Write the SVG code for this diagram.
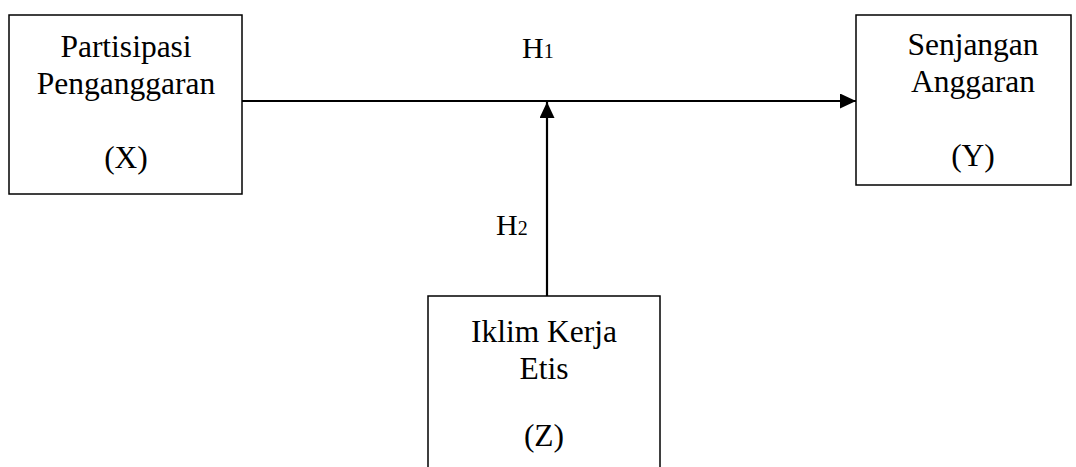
<svg xmlns="http://www.w3.org/2000/svg" width="1076" height="467" viewBox="0 0 1076 467">
  <style>
    .box { fill: #ffffff; stroke: #000000; stroke-width: 1.5; }
    .t { font-family: "Liberation Serif", "Times New Roman", serif; font-size: 31.5px; fill: #000000; text-anchor: middle; }
    .h { font-family: "Liberation Serif", "Times New Roman", serif; font-size: 30px; fill: #000000; }
    .sub { font-size: 20px; }
    .conn { stroke: #000000; stroke-width: 2.2; fill: none; }
  </style>
  <defs>
    <marker id="arrow" markerUnits="userSpaceOnUse" markerWidth="16" markerHeight="16" refX="16" refY="7.5" orient="auto">
      <path d="M0,0 L16,7.5 L0,15 Z" fill="#000000"/>
    </marker>
  </defs>
  <rect width="1076" height="467" fill="#ffffff"/>

  <g id="node-x">
    <rect class="box" x="9" y="15" width="233" height="179"/>
    <text class="t" x="126" y="57">Partisipasi</text>
    <text class="t" x="126" y="94">Penganggaran</text>
    <text class="t" x="126" y="168">(X)</text>
  </g>

  <g id="node-y">
    <rect class="box" x="856" y="15" width="215" height="170"/>
    <text class="t" x="973" y="55">Senjangan</text>
    <text class="t" x="973" y="92">Anggaran</text>
    <text class="t" x="973" y="166">(Y)</text>
  </g>

  <g id="node-z">
    <rect class="box" x="428" y="296" width="232" height="190"/>
    <text class="t" x="544" y="342">Iklim Kerja</text>
    <text class="t" x="544" y="379">Etis</text>
    <text class="t" x="544" y="446">(Z)</text>
  </g>

  <g id="connectors">
    <line class="conn" x1="242" y1="101" x2="856" y2="101" marker-end="url(#arrow)"/>
    <line class="conn" x1="547" y1="296" x2="547" y2="102" marker-end="url(#arrow)"/>
    <text class="h" x="522" y="58">H<tspan class="sub">1</tspan></text>
    <text class="h" x="496" y="235">H<tspan class="sub">2</tspan></text>
  </g>
</svg>
